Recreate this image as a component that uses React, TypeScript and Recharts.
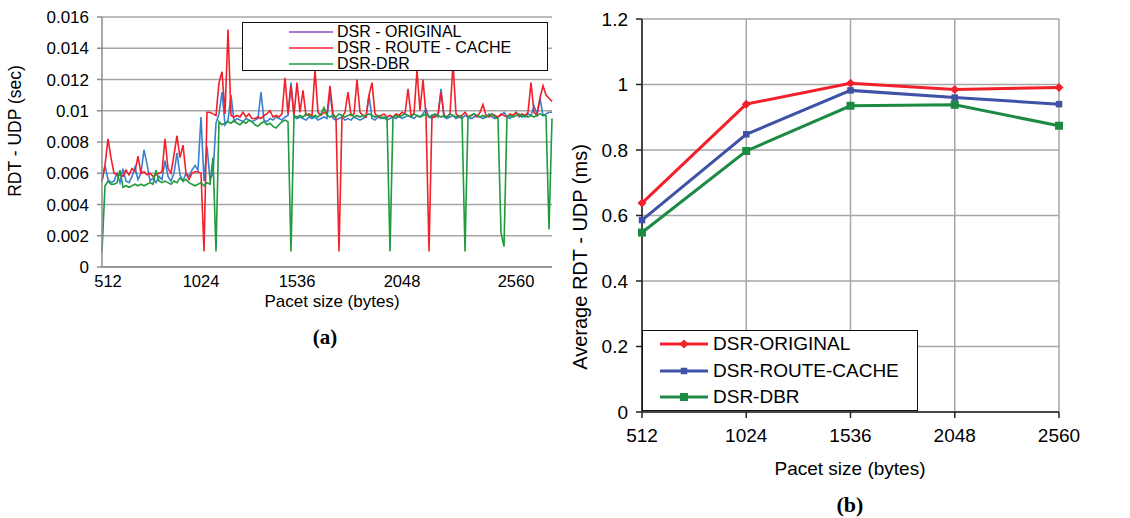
import { LineChart, Line, XAxis, YAxis, CartesianGrid, Legend, Label } from "recharts";

const FONT = '"Liberation Sans", Arial, sans-serif';
const SERIF = '"Liberation Serif", "Times New Roman", serif';

// (a) RDT per sample across the packet size sweep (seconds)
const sweepTicks = [2, 33, 65, 100, 138];
const sweepLabels = ["512", "1024", "1536", "2048", "2560"];
const delayTicks = [0, 0.002, 0.004, 0.006, 0.008, 0.01, 0.012, 0.014, 0.016];

const dsrOriginal = [
  0.0055, 0.0065, 0.0056, 0.0054, 0.0055, 0.006, 0.0054, 0.0063, 0.0055, 0.0054,
  0.0058, 0.0064, 0.0056, 0.006, 0.0075, 0.0066, 0.0055, 0.0057, 0.0054, 0.0058,
  0.0056, 0.0068, 0.0058, 0.0055, 0.006, 0.0073, 0.0059, 0.0055, 0.006, 0.0058,
  0.0062, 0.0065, 0.0062, 0.0096, 0.0055, 0.0077, 0.0056, 0.006, 0.0092, 0.0098,
  0.0112, 0.0091, 0.0094, 0.011, 0.0093, 0.0095, 0.0094, 0.0093, 0.0095, 0.0094,
  0.0093, 0.0094, 0.0095, 0.0112, 0.0094, 0.0093, 0.0095, 0.0094, 0.0096, 0.0095,
  0.0094, 0.0096, 0.0097, 0.0118, 0.0096, 0.0095, 0.0096, 0.0095, 0.0094, 0.0096,
  0.0095, 0.0096, 0.0094, 0.0095, 0.0096, 0.0095, 0.0112, 0.0095, 0.0094, 0.0095,
  0.0096, 0.0094, 0.0095, 0.0094, 0.0096, 0.0095, 0.0094, 0.0095, 0.0096, 0.011,
  0.0095, 0.0094, 0.0096, 0.0095, 0.0096, 0.0094, 0.0095, 0.0096, 0.0095, 0.0097,
  0.0095, 0.0096, 0.0097, 0.0096, 0.0095, 0.0097, 0.0096, 0.0098, 0.0101, 0.0096,
  0.0095, 0.0097, 0.0096, 0.0114, 0.0096, 0.0095, 0.0096, 0.0097, 0.0095, 0.0096,
  0.0095, 0.0097, 0.0096, 0.0095, 0.0096, 0.0097, 0.0096, 0.0095, 0.0096, 0.0098,
  0.0096, 0.0095, 0.0096, 0.0097, 0.0099, 0.0096, 0.0095, 0.0097, 0.0099, 0.0096,
  0.0097, 0.0096, 0.0098, 0.0097, 0.0103, 0.0098, 0.0108, 0.0097, 0.0098, 0.0099,
  0.0099,
];

const dsrRouteCache = [
  0.0055, 0.0065, 0.0082, 0.007, 0.006, 0.0059, 0.0059, 0.0058, 0.0062, 0.0059,
  0.0063, 0.0061, 0.0071, 0.006, 0.0061, 0.0059, 0.006, 0.0058, 0.0059, 0.006,
  0.0061, 0.0082, 0.0063, 0.006, 0.0072, 0.0084, 0.007, 0.0078, 0.006, 0.0056,
  0.006, 0.0061, 0.0061, 0.006, 0.001, 0.0099, 0.0099, 0.0098, 0.0097, 0.0118,
  0.0125, 0.0098, 0.0152, 0.0097, 0.0096, 0.0097, 0.0096, 0.0099, 0.0096, 0.0098,
  0.0095, 0.0095, 0.0096, 0.0095, 0.0097, 0.0098, 0.01, 0.0096, 0.0097, 0.0096,
  0.0098, 0.0121, 0.0098, 0.0116, 0.0097, 0.0118, 0.0099, 0.0113, 0.0097, 0.0098,
  0.0097, 0.0126, 0.0099, 0.0097, 0.0099, 0.0098, 0.0116, 0.0098, 0.0095, 0.001,
  0.0096, 0.0099, 0.0112, 0.0097, 0.0098, 0.012, 0.0099, 0.0097, 0.0096, 0.011,
  0.0118, 0.0098, 0.0096, 0.0097, 0.0098, 0.0096, 0.0097, 0.0096, 0.0098, 0.0097,
  0.0099, 0.0098, 0.0114, 0.0097, 0.0098, 0.0126, 0.01, 0.012, 0.0097, 0.001,
  0.0097, 0.0096, 0.0098, 0.0112, 0.0097, 0.0096, 0.0098, 0.013, 0.0098, 0.0096,
  0.0097, 0.0099, 0.0096, 0.0097, 0.0098, 0.0096, 0.0099, 0.0104, 0.0097, 0.0096,
  0.0098, 0.0097, 0.0096, 0.0098, 0.0097, 0.0096, 0.0098, 0.0097, 0.0099, 0.0097,
  0.0098, 0.0097, 0.0099, 0.0118, 0.0099, 0.0097, 0.0108, 0.0116, 0.011, 0.0108,
  0.0106,
];

const dsrDbr = [
  0.001, 0.0052, 0.0055, 0.0053, 0.0053, 0.0054, 0.0062, 0.0051, 0.0052, 0.0051,
  0.0052, 0.0053, 0.0052, 0.0053, 0.0052, 0.0053, 0.0054, 0.0053, 0.0062, 0.0055,
  0.0054, 0.0055, 0.0054, 0.0053, 0.0055, 0.0054, 0.0057, 0.0055, 0.0056, 0.0054,
  0.0053, 0.0052, 0.0053, 0.0054, 0.0052, 0.0054, 0.0053, 0.007, 0.001, 0.0093,
  0.0091, 0.0092, 0.0093, 0.0092, 0.0094, 0.0092, 0.0091, 0.0093, 0.0092, 0.0094,
  0.0093, 0.0091, 0.009, 0.0092, 0.0093, 0.0091, 0.0092, 0.009, 0.0089, 0.0091,
  0.0093, 0.0094, 0.0093, 0.001, 0.0097, 0.0096, 0.0097, 0.0096, 0.0098, 0.0097,
  0.0096, 0.0097, 0.0096, 0.0098, 0.0102, 0.0097, 0.0096, 0.0097, 0.0096, 0.0098,
  0.0097, 0.0096, 0.0097, 0.0098, 0.0096, 0.0097, 0.0096, 0.0097, 0.0097, 0.0098,
  0.0097, 0.0096, 0.0097, 0.0096, 0.0095, 0.0096, 0.001, 0.0096, 0.0097, 0.0096,
  0.0097, 0.0098, 0.0097, 0.0096, 0.0098, 0.0097, 0.0096, 0.0097, 0.0098, 0.0096,
  0.0097, 0.0098, 0.0097, 0.0096, 0.0097, 0.0096, 0.0098, 0.0097, 0.0096, 0.0097,
  0.0096, 0.001, 0.0096, 0.0097, 0.0098, 0.0097, 0.0096, 0.0097, 0.0096, 0.0097,
  0.0098, 0.0096, 0.0095, 0.0022, 0.0013, 0.0096, 0.0097, 0.0096, 0.0097, 0.0098,
  0.0096, 0.0097, 0.0096, 0.0097, 0.0096, 0.0097, 0.0098, 0.0097, 0.0097, 0.0024,
  0.0095,
];

// (b) average RDT per packet size (ms)
const packetSizes = [512, 1024, 1536, 2048, 2560];
const avgOriginal = [0.638, 0.94, 1.004, 0.985, 0.991];
const avgRouteCache = [0.586, 0.848, 0.982, 0.96, 0.94];
const avgDbr = [0.548, 0.797, 0.935, 0.938, 0.874];
const avgTicks = [0, 0.2, 0.4, 0.6, 0.8, 1, 1.2];

const sweepData = dsrOriginal.map((v, i) => ({
  sample: i,
  original: v,
  routeCache: dsrRouteCache[i],
  dbr: dsrDbr[i],
}));

const avgData = packetSizes.map((size, i) => ({
  size,
  original: avgOriginal[i],
  routeCache: avgRouteCache[i],
  dbr: avgDbr[i],
}));

const RED = "#f2202a";
const BLUE_A = "#3b7fd0";
const GREEN_A = "#1f9a3c";
const PURPLE = "#8a4cc4";
const BLUE_B = "#3e52a6";
const GREEN_B = "#1d8a44";

const legendA = [
  { name: "DSR - ORIGINAL", color: PURPLE },
  { name: "DSR - ROUTE - CACHE", color: RED },
  { name: "DSR-DBR", color: GREEN_A },
];

const legendB = [
  { name: "DSR-ORIGINAL", color: RED, shape: "diamond" },
  { name: "DSR-ROUTE-CACHE", color: BLUE_B, shape: "small" },
  { name: "DSR-DBR", color: GREEN_B, shape: "square" },
];

function Marker({ cx, cy, shape, color }: { cx: number; cy: number; shape: string; color: string }) {
  if (shape === "diamond") {
    const r = 4.5;
    return <polygon points={`${cx},${cy - r} ${cx + r},${cy} ${cx},${cy + r} ${cx - r},${cy}`} fill={color} />;
  }
  const s = shape === "square" ? 8 : 6.5;
  return <rect x={cx - s / 2} y={cy - s / 2} width={s} height={s} fill={color} />;
}

const markerDot = (shape: string, color: string) => (props: any) => {
  const { cx, cy, index } = props;
  if (cx == null || cy == null) return <g key={`${shape}-${index}`} />;
  return (
    <g key={`${shape}-${index}`}>
      <Marker cx={cx} cy={cy} shape={shape} color={color} />
    </g>
  );
};

function SweepLegend() {
  return (
    <div
      style={{
        width: 306,
        height: 49,
        boxSizing: "border-box",
        border: "1.5px solid #111",
        background: "#fff",
        paddingTop: 1,
        fontFamily: FONT,
        fontSize: 16,
      }}
    >
      {legendA.map((e) => (
        <div key={e.name} style={{ display: "flex", alignItems: "center", height: 16 }}>
          <svg width={94} height={16} style={{ flex: "none" }}>
            <line x1={46} x2={90} y1={8} y2={8} stroke={e.color} strokeWidth={1.6} />
          </svg>
          <span style={{ lineHeight: "16px", whiteSpace: "nowrap" }}>{e.name}</span>
        </div>
      ))}
    </div>
  );
}

function AverageLegend() {
  return (
    <div
      style={{
        width: 276,
        height: 81,
        boxSizing: "border-box",
        border: "1.5px solid #111",
        background: "#fff",
        fontFamily: FONT,
        fontSize: 19,
      }}
    >
      {legendB.map((e) => (
        <div key={e.name} style={{ display: "flex", alignItems: "center", height: 26.5 }}>
          <svg width={70} height={26} style={{ flex: "none" }}>
            <line x1={17} x2={65} y1={13} y2={13} stroke={e.color} strokeWidth={3} />
            <Marker cx={41} cy={13} shape={e.shape} color={e.color} />
          </svg>
          <span style={{ lineHeight: "26px", whiteSpace: "nowrap" }}>{e.name}</span>
        </div>
      ))}
    </div>
  );
}

const caption = (text: string, x: number, y: number, opts: { size: number; angle?: number; bold?: boolean; serif?: boolean }) => () =>
  (
    <text
      x={x}
      y={y}
      textAnchor="middle"
      fontSize={opts.size}
      fontWeight={opts.bold ? 700 : 400}
      fontFamily={opts.serif ? SERIF : FONT}
      fill="#000"
      transform={opts.angle ? `rotate(${opts.angle} ${x} ${y})` : undefined}
    >
      {text}
    </text>
  );

export default function App() {
  return (
    <div style={{ position: "absolute", left: 0, top: 0, width: 1130, height: 518, background: "#fff" }}>
      <div style={{ position: "absolute", left: 0, top: 0 }}>
        <LineChart
          width={560}
          height={360}
          data={sweepData}
          margin={{ top: 17, right: 8, bottom: 63, left: 0 }}
          style={{ fontFamily: FONT }}
        >
          <CartesianGrid vertical={false} stroke="#a6a6a6" strokeWidth={1.5} />
          <XAxis
            dataKey="sample"
            type="number"
            domain={[0, 150]}
            ticks={sweepTicks}
            interval={0}
            tickFormatter={(v: number) => sweepLabels[sweepTicks.indexOf(v)]}
            tickLine={false}
            tickMargin={2}
            height={30}
            axisLine={{ stroke: "#8c8c8c", strokeWidth: 1.5 }}
            tick={{ fontSize: 16.5, fill: "#000" }}
          >
            <Label content={caption("Pacet size (bytes)", 332, 307, { size: 17 })} />
            <Label content={caption("(a)", 325, 344, { size: 21, bold: true, serif: true })} />
          </XAxis>
          <YAxis
            width={102}
            domain={[0, 0.016]}
            ticks={delayTicks}
            interval={0}
            tickSize={5}
            tickMargin={8}
            axisLine={{ stroke: "#8c8c8c", strokeWidth: 1.5 }}
            tickLine={{ stroke: "#8c8c8c", strokeWidth: 1.5 }}
            tick={{ fontSize: 17, fill: "#000" }}
          >
            <Label content={caption("RDT - UDP (sec)", 21, 131, { size: 17.5, angle: -90 })} />
          </YAxis>
          <Line type="linear" dataKey="original" name="DSR - ORIGINAL" stroke={BLUE_A} strokeWidth={1.6} dot={false} isAnimationActive={false} />
          <Line type="linear" dataKey="routeCache" name="DSR - ROUTE - CACHE" stroke={RED} strokeWidth={1.6} dot={false} isAnimationActive={false} />
          <Line type="linear" dataKey="dbr" name="DSR-DBR" stroke={GREEN_A} strokeWidth={1.6} dot={false} isAnimationActive={false} />
          <Legend
            layout="vertical"
            align="center"
            verticalAlign="middle"
            content={() => <SweepLegend />}
            wrapperStyle={{ left: 242, top: 22, width: 306, height: 49 }}
          />
        </LineChart>
      </div>

      <div style={{ position: "absolute", left: 560, top: 0 }}>
        <LineChart
          width={570}
          height={518}
          data={avgData}
          margin={{ top: 19, right: 71, bottom: 76, left: 0 }}
          style={{ fontFamily: FONT }}
        >
          <CartesianGrid stroke="#a6a6a6" strokeWidth={1.5} />
          <XAxis
            dataKey="size"
            type="number"
            domain={[512, 2560]}
            ticks={packetSizes}
            interval={0}
            tickSize={6}
            tickMargin={11}
            height={30}
            axisLine={{ stroke: "#222", strokeWidth: 1.5 }}
            tickLine={{ stroke: "#222", strokeWidth: 1.5 }}
            tick={{ fontSize: 19, fill: "#000" }}
          >
            <Label content={caption("Pacet size (bytes)", 290, 475, { size: 19 })} />
            <Label content={caption("(b)", 290, 512, { size: 22, bold: true, serif: true })} />
          </XAxis>
          <YAxis
            width={82}
            domain={[0, 1.2]}
            ticks={avgTicks}
            interval={0}
            tickSize={6}
            tickMargin={8}
            axisLine={{ stroke: "#222", strokeWidth: 1.5 }}
            tickLine={{ stroke: "#222", strokeWidth: 1.5 }}
            tick={{ fontSize: 19, fill: "#000" }}
          >
            <Label content={caption("Average RDT - UDP (ms)", 27, 257, { size: 20, angle: -90 })} />
          </YAxis>
          <Line type="linear" dataKey="original" name="DSR-ORIGINAL" stroke={RED} strokeWidth={3} dot={markerDot("diamond", RED)} isAnimationActive={false} />
          <Line type="linear" dataKey="routeCache" name="DSR-ROUTE-CACHE" stroke={BLUE_B} strokeWidth={3} dot={markerDot("small", BLUE_B)} isAnimationActive={false} />
          <Line type="linear" dataKey="dbr" name="DSR-DBR" stroke={GREEN_B} strokeWidth={3} dot={markerDot("square", GREEN_B)} isAnimationActive={false} />
          <Legend
            layout="vertical"
            align="center"
            verticalAlign="middle"
            content={() => <AverageLegend />}
            wrapperStyle={{ left: 82, top: 330, width: 276, height: 81 }}
          />
        </LineChart>
      </div>
    </div>
  );
}
